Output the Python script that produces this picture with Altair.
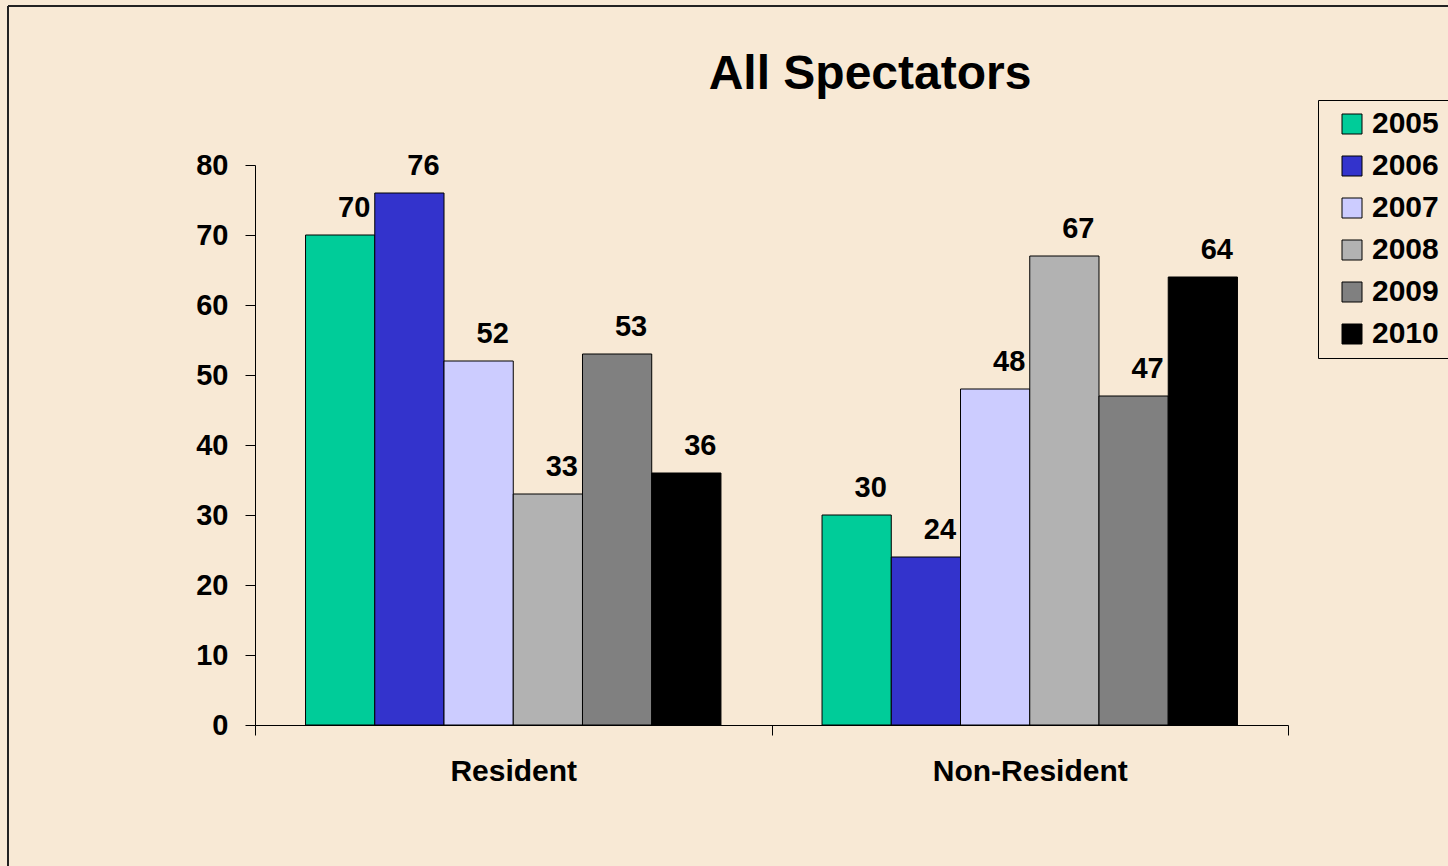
import altair as alt
import pandas as pd

categories = ["Resident", "Non-Resident"]
years = ["2005", "2006", "2007", "2008", "2009", "2010"]
resident = [70, 76, 52, 33, 53, 36]
non_resident = [30, 24, 48, 67, 47, 64]
colors = ["#00CC99", "#3333CC", "#CCCCFF", "#B2B2B2", "#808080", "#000000"]
y_ticks = [0, 10, 20, 30, 40, 50, 60, 70, 80]
title_text = ["All Spectators"]

rows = []
for cat, vals in zip(categories, [resident, non_resident]):
    for yr, v in zip(years, vals):
        rows.append({"category": cat, "year": yr, "value": v})
df = pd.DataFrame(rows)

FONT = "Liberation Sans"
BG = "#F8E9D5"

x = alt.X(
    "category:N", sort=categories, title=None,
    scale=alt.Scale(paddingInner=0, paddingOuter=0),
    axis=alt.Axis(labelAngle=0, tickBand="extent", labelFontSize=30, labelFontWeight="bold",
                  labelColor="black", labelFont=FONT, labelPadding=21, labelLimit=0,
                  tickSize=10, tickColor="black", domainColor="black", grid=False),
)
xoff = alt.XOffset("year:N", sort=years, scale=alt.Scale(paddingInner=0, paddingOuter=0.73))
y = alt.Y(
    "value:Q", title=None,
    scale=alt.Scale(domain=[0, 80], nice=False),
    axis=alt.Axis(values=y_ticks, grid=False, labelFontSize=29, labelFontWeight="bold",
                  labelColor="black", labelFont=FONT, labelPadding=17, tickSize=10,
                  tickColor="black", domainColor="black"),
)

labels = alt.Chart(df).mark_text(
    fontSize=29, fontWeight="bold", font=FONT, baseline="alphabetic", dy=-18, dx=14,
    color="black"
).encode(x=x, xOffset=xoff, y=y, text="value:Q")

bars = alt.Chart(df).mark_bar(stroke="black", strokeWidth=1).encode(
    x=x, xOffset=xoff, y=y,
    color=alt.Color(
        "year:N", sort=years,
        scale=alt.Scale(domain=years, range=colors),
        legend=alt.Legend(
            title=None, orient="none", legendX=1063, legendY=-65,
            fillColor=BG, strokeColor="black", padding=9,
            symbolType="square", symbolSize=400, symbolStrokeColor="black",
            symbolStrokeWidth=1, symbolOffset=10, labelOffset=5,
            labelFontSize=30, labelFontWeight="bold", labelFont=FONT, labelColor="black",
            rowPadding=12, symbolOpacity=1,
        ),
    ),
)

title_df = pd.DataFrame({"t": title_text})
title = alt.Chart(title_df).mark_text(
    fontSize=48, fontWeight="bold", font=FONT, color="black", align="center",
    baseline="alphabetic"
).encode(x=alt.value(615), y=alt.value(-76), text="t:N")

frame_df = pd.DataFrame({"k": [0]})
frame_left = alt.Chart(frame_df).mark_rule(color="#222222", strokeWidth=2).encode(
    x=alt.value(-247), y=alt.value(-159), y2=alt.value(705)
)
frame_top = alt.Chart(frame_df).mark_rule(color="#222222", strokeWidth=2).encode(
    x=alt.value(-247), x2=alt.value(1200), y=alt.value(-159)
)

chart = alt.layer(labels, bars, title, frame_left, frame_top).properties(
    width=1033, height=560,
    padding={"left": 255, "top": 165, "right": 160, "bottom": 141},
    autosize=alt.AutoSizeParams(type="none"),
).configure(background=BG).configure_view(stroke=None)

chart.save("out.html", embed_options={"renderer": "svg", "actions": False})
